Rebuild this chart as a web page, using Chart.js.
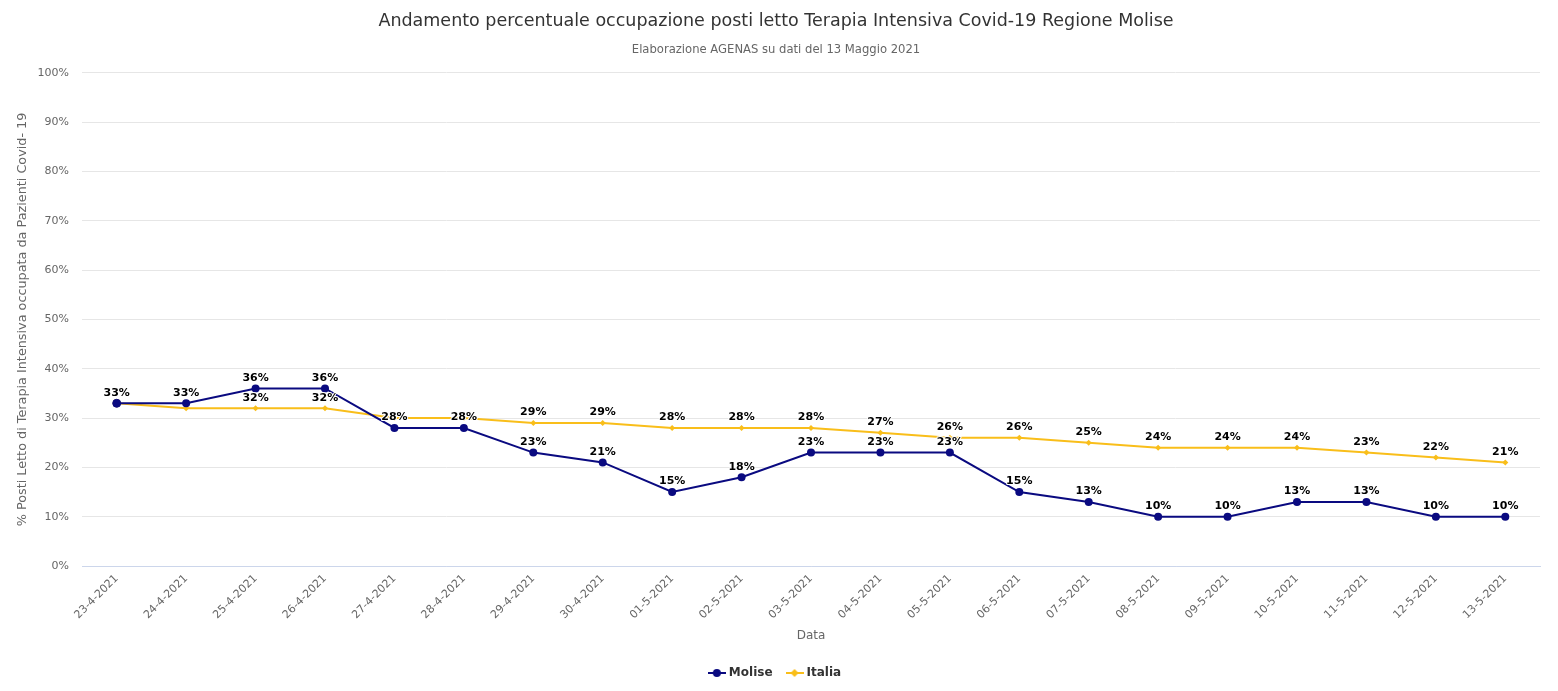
<!DOCTYPE html>
<html>
<head>
<meta charset="utf-8">
<script src="https://cdn.jsdelivr.net/npm/chart.js@4/dist/chart.umd.min.js"></script>
<style>
  html, body { margin: 0; padding: 0; background: #fff; }
  #wrap { width: 1558px; height: 691px; }
</style>
</head>
<body>
<div id="wrap"><canvas id="chart"></canvas></div>
<script>
const labels = ['23-4-2021', '24-4-2021', '25-4-2021', '26-4-2021', '27-4-2021', '28-4-2021', '29-4-2021',
  '30-4-2021', '01-5-2021', '02-5-2021', '03-5-2021', '04-5-2021', '05-5-2021', '06-5-2021', '07-5-2021',
  '08-5-2021', '09-5-2021', '10-5-2021', '11-5-2021', '12-5-2021', '13-5-2021'];
const molise = [33, 33, 36, 36, 28, 28, 23, 21, 15, 18, 23, 23, 23, 15, 13, 10, 10, 13, 13, 10, 10];
const italia = [33, 32, 32, 32, 30, 30, 29, 29, 28, 28, 28, 27, 26, 26, 25, 24, 24, 24, 23, 22, 21];
const yTicks = [0, 10, 20, 30, 40, 50, 60, 70, 80, 90, 100];

const NAVY = '#0a0a80';
const GOLD = '#f9be1a';
const FONT = "'DejaVu Sans', Verdana, sans-serif";

// legend symbol: short line with a marker in the middle
function legendSymbol(color, shape) {
  const c = document.createElement('canvas');
  c.width = 18; c.height = 10;
  const g = c.getContext('2d');
  g.strokeStyle = color; g.fillStyle = color; g.lineWidth = 2;
  g.beginPath(); g.moveTo(0, 5); g.lineTo(18, 5); g.stroke();
  g.beginPath();
  if (shape === 'circle') g.arc(9, 5, 4, 0, Math.PI * 2);
  else { g.moveTo(9, 1); g.lineTo(13, 5); g.lineTo(9, 9); g.lineTo(5, 5); g.closePath(); }
  g.fill();
  return c;
}

// highcharts-like data labels, second series hidden where it collides
const pointLabels = {
  id: 'pointLabels',
  afterDatasetsDraw(chart) {
    const ctx = chart.ctx;
    const boxes = [];
    ctx.save();
    ctx.font = 'bold 11px ' + FONT;
    ctx.textAlign = 'center';
    ctx.textBaseline = 'bottom';
    ctx.lineJoin = 'round';
    chart.data.datasets.forEach((ds, di) => {
      const meta = chart.getDatasetMeta(di);
      meta.data.forEach((pt, i) => {
        const txt = ds.data[i] + '%';
        const w = ctx.measureText(txt).width;
        const x = pt.x, y = pt.y - 5;
        const box = { l: x - w / 2 - 2, r: x + w / 2 + 2, t: y - 13, b: y };
        if (boxes.some(b => box.l < b.r && box.r > b.l && box.t < b.b && box.b > b.t)) return;
        boxes.push(box);
        ctx.strokeStyle = '#fff';
        ctx.lineWidth = 2;
        ctx.strokeText(txt, x, y);
        ctx.fillStyle = '#000';
        ctx.fillText(txt, x, y);
      });
    });
    ctx.restore();
  }
};

new Chart(document.getElementById('chart'), {
  type: 'line',
  data: {
    labels: labels,
    datasets: [
      {
        label: 'Molise',
        data: molise,
        borderColor: NAVY,
        backgroundColor: NAVY,
        borderWidth: 2,
        pointStyle: 'circle',
        pointRadius: 4,
        pointBorderWidth: 0,
        tension: 0
      },
      {
        label: 'Italia',
        data: italia,
        borderColor: GOLD,
        backgroundColor: GOLD,
        borderWidth: 2,
        pointStyle: c => c.dataIndex === 0 ? 'circle' : 'rectRot',
        pointRadius: c => c.dataIndex === 0 ? 4 : 3,
        pointBorderColor: c => c.dataIndex === 0 ? NAVY : GOLD,
        pointBorderWidth: c => c.dataIndex === 0 ? 1 : 0,
        tension: 0
      }
    ]
  },
  options: {
    responsive: true,
    maintainAspectRatio: false,
    animation: false,
    events: [],
    layout: { padding: { left: 12, right: 18, top: 0, bottom: 2 } },
    plugins: {
      title: {
        display: true,
        text: 'Andamento percentuale occupazione posti letto Terapia Intensiva Covid-19 Regione Molise',
        color: '#333333',
        font: { family: FONT, size: 17.5, weight: 'normal' },
        padding: { top: 11, bottom: 0 }
      },
      subtitle: {
        display: true,
        text: 'Elaborazione AGENAS su dati del 13 Maggio 2021',
        color: '#666666',
        font: { family: FONT, size: 11.6, weight: 'normal' },
        padding: { top: 11, bottom: 16 }
      },
      legend: {
        position: 'bottom',
        labels: {
          usePointStyle: true,
          padding: 16,
          color: '#333333',
          font: { family: FONT, size: 12, weight: 'bold' },
          generateLabels: chart => chart.data.datasets.map((ds, i) => ({
            text: ds.label,
            pointStyle: legendSymbol(ds.borderColor, i === 0 ? 'circle' : 'diamond'),
            fontColor: '#333333',
            datasetIndex: i,
            lineWidth: 0
          }))
        }
      },
      tooltip: { enabled: false }
    },
    scales: {
      x: {
        offset: true,
        grid: { display: false, drawTicks: false },
        border: { color: '#ccd6eb', width: 1 },
        ticks: {
          autoSkip: false,
          minRotation: 45,
          maxRotation: 45,
          padding: 6,
          color: '#666666',
          font: { family: FONT, size: 11 }
        },
        title: {
          display: true,
          text: 'Data',
          color: '#666666',
          font: { family: FONT, size: 12 },
          padding: { top: 4, bottom: 8 }
        },
        afterFit: s => { s.height = 85; }
      },
      y: {
        min: 0,
        max: 100,
        afterBuildTicks: s => { s.ticks = yTicks.map(v => ({ value: v })); },
        grid: { color: '#e6e6e6', drawTicks: false },
        border: { display: false },
        ticks: {
          padding: 13,
          color: '#666666',
          font: { family: FONT, size: 11 },
          callback: v => v + '%'
        },
        title: {
          display: true,
          text: '% Posti Letto di Terapia Intensiva occupata da Pazienti Covid- 19',
          color: '#666666',
          font: { family: FONT, size: 12.8 },
          padding: { top: 3, bottom: 4 }
        },
        afterFit: s => { s.width = 70; }
      }
    }
  },
  plugins: [pointLabels]
});
</script>
</body>
</html>
